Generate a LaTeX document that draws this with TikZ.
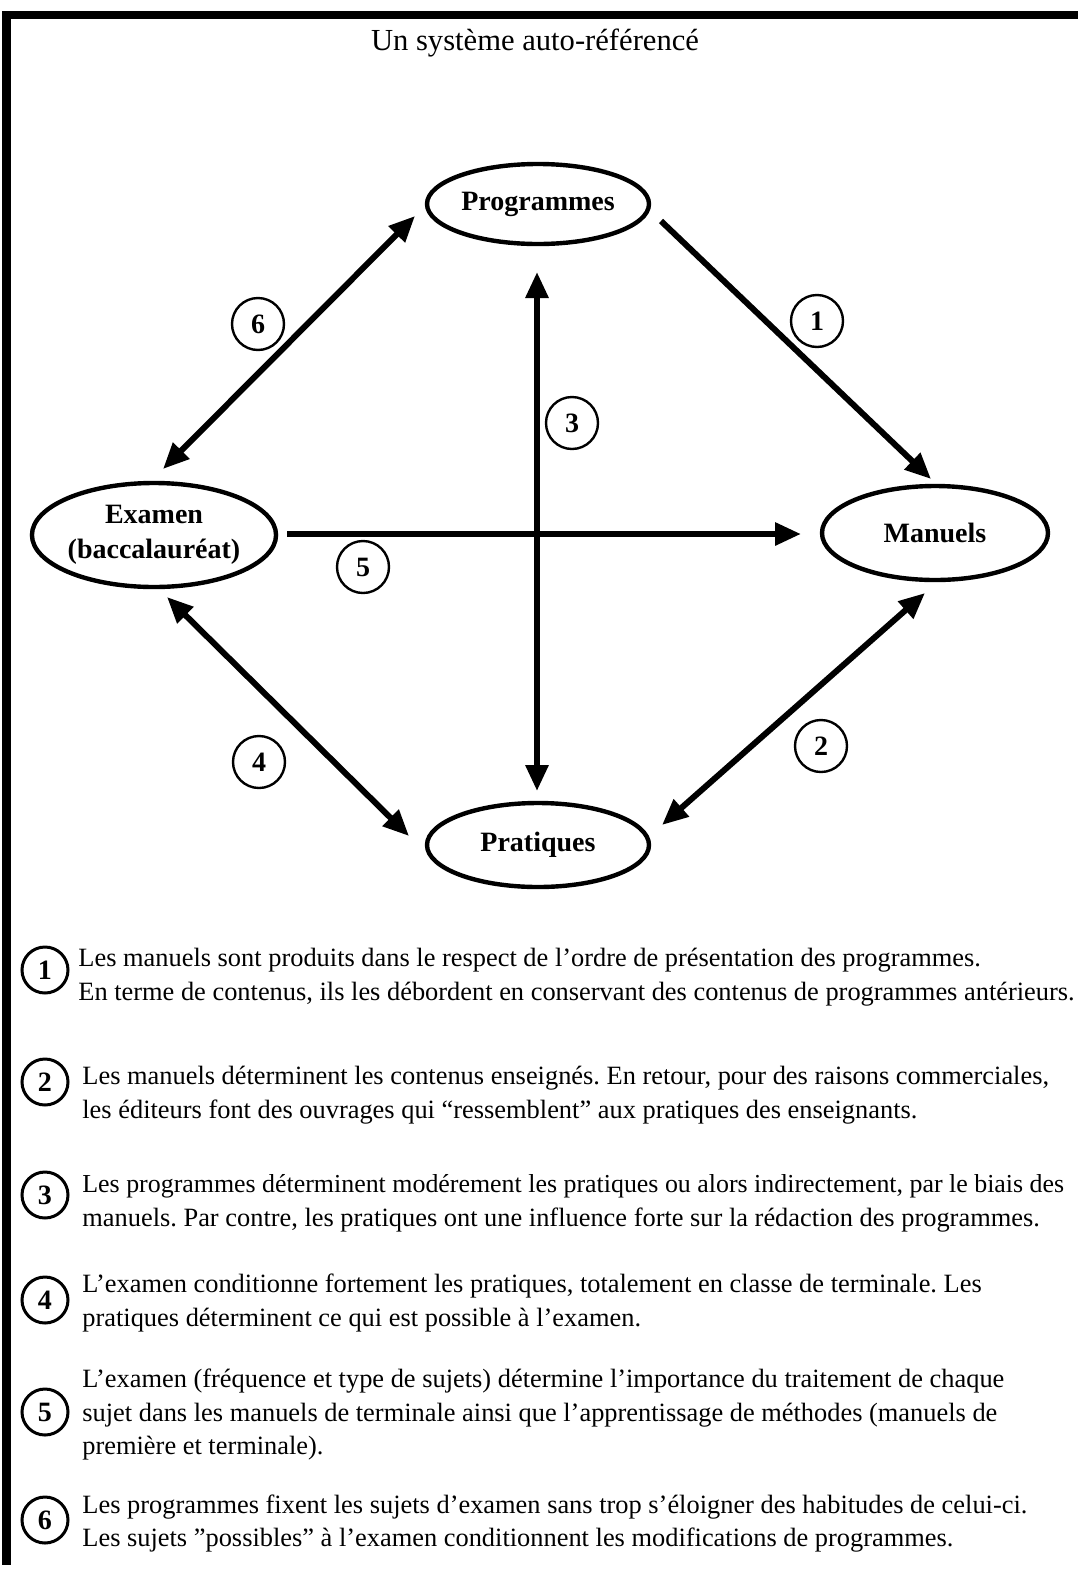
\documentclass[tikz,border=0pt]{standalone}
\usepackage{fontspec}
\setmainfont{Liberation Serif}
\usetikzlibrary{shapes.geometric,arrows.meta}
\frenchspacing
\begin{document}
\begin{tikzpicture}[x=0.5pt,y=-0.5pt,
  elli/.style={ellipse,draw,line width=2.2pt,inner sep=0pt,align=center,
    font=\bfseries\fontsize{14}{17.5}\selectfont},
  num/.style={circle,draw,line width=1.2pt,minimum size=26pt,inner sep=0pt,
    font=\bfseries\fontsize{14}{14}\selectfont},
  lnum/.style={circle,draw,line width=1.5pt,minimum size=23pt,inner sep=0pt,
    font=\bfseries\fontsize{14}{14}\selectfont},
  link/.style={line width=3pt},
  bigtip/.tip={Triangle[length=13pt,width=11pt]},
  legend/.style={anchor=base west,inner sep=0pt,font=\fontsize{13.2}{17}\selectfont},
  titlefont/.style={font=\fontsize{15.3}{18}\selectfont}
]
\useasboundingbox (0,0) rectangle (1078,1569);
% frame
\fill[black] (4,11) rectangle (1078,19);
\fill[black] (2,11) rectangle (11,1565);

% title
\node[titlefont] (title) at (535,43) {Un système auto-référencé};

% main nodes
\node[elli,minimum width=111pt,minimum height=40pt] (prog) at (538,204) {Programmes};
\node[elli,minimum width=113pt,minimum height=47pt] (man) at (935,533) {Manuels};
\node[elli,minimum width=121pt,minimum height=52pt] (exam) at (154,535) {Examen\\(baccalauréat)};
\node[elli,minimum width=111pt,minimum height=42pt] (prat) at (538,845) {Pratiques};

% connector end points
\coordinate (e6a) at (163,469);
\coordinate (e6b) at (415,216);
\coordinate (e1a) at (661,221);
\coordinate (e1b) at (931,479);
\coordinate (e4a) at (167,597);
\coordinate (e4b) at (409,836);
\coordinate (e2a) at (925,593);
\coordinate (e2b) at (662,825);
\coordinate (e3a) at (537,272);
\coordinate (e3b) at (537,791);
\coordinate (e5a) at (287,534);
\coordinate (e5b) at (801,534);

% connectors
\draw[link,{bigtip}-{bigtip}] (e6a) -- (e6b);
\draw[link,-{bigtip}] (e1a) -- (e1b);
\draw[link,{bigtip}-{bigtip}] (e4a) -- (e4b);
\draw[link,{bigtip}-{bigtip}] (e2a) -- (e2b);
\draw[link,{bigtip}-{bigtip}] (e3a) -- (e3b);
\draw[link,-{bigtip}] (e5a) -- (e5b);

% circled numbers in diagram
\node[num] (n6) at (258,324) {6};
\node[num] (n1) at (817,321) {1};
\node[num] (n3) at (572,423) {3};
\node[num] (n5) at (363,567) {5};
\node[num] (n4) at (259,762) {4};
\node[num] (n2) at (821,746) {2};

% legend
\node[lnum] (l1) at (45,970) {1};
\node[legend] (t1a) at (78,966) {Les manuels sont produits dans le respect de l’ordre de présentation des programmes.};
\node[legend] (t1b) at (78,1000) {En terme de contenus, ils les débordent en conservant des contenus de programmes antérieurs.};

\node[lnum] (l2) at (45,1082) {2};
\node[legend] (t2a) at (82,1084) {Les manuels déterminent les contenus enseignés. En retour, pour des raisons commerciales,};
\node[legend] (t2b) at (82,1118) {les éditeurs font des ouvrages qui “ressemblent” aux pratiques des enseignants.};

\node[lnum] (l3) at (45,1195) {3};
\node[legend,font=\fontsize{12.95}{17}\selectfont] (t3a) at (82,1192) {Les programmes déterminent modérement les pratiques ou alors indirectement, par le biais des};
\node[legend] (t3b) at (82,1226) {manuels. Par contre, les pratiques ont une influence forte sur la rédaction des programmes.};

\node[lnum] (l4) at (45,1300) {4};
\node[legend] (t4a) at (82,1292) {L’examen conditionne fortement les pratiques, totalement en classe de terminale. Les};
\node[legend] (t4b) at (82,1326) {pratiques déterminent ce qui est possible à l’examen.};

\node[lnum] (l5) at (45,1412) {5};
\node[legend] (t5a) at (82,1387) {L’examen (fréquence et type de sujets) détermine l’importance du traitement de chaque};
\node[legend] (t5b) at (82,1421) {sujet dans les manuels de terminale ainsi que l’apprentissage de méthodes (manuels de};
\node[legend] (t5c) at (82,1454) {première et terminale).};

\node[lnum] (l6) at (45,1520) {6};
\node[legend] (t6a) at (82,1513) {Les programmes fixent les sujets d’examen sans trop s’éloigner des habitudes de celui-ci.};
\node[legend] (t6b) at (82,1546) {Les sujets ”possibles” à l’examen conditionnent les modifications de programmes.};
\end{tikzpicture}
\end{document}
